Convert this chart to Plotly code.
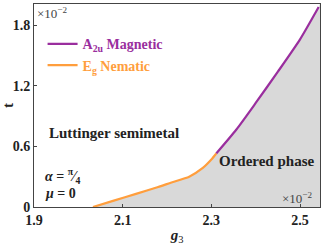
import plotly.graph_objects as go

# Data
g_nem = [2.033, 2.08, 2.13, 2.18, 2.21, 2.25, 2.28, 2.30, 2.311]
t_nem = [0.0, 0.063, 0.13, 0.198, 0.243, 0.30, 0.384, 0.47, 0.53]
g_mag = [2.311, 2.356, 2.40, 2.45, 2.50, 2.542]
t_mag = [0.53, 0.765, 1.03, 1.34, 1.66, 1.98]

xticks = [1.9, 2.1, 2.3, 2.5]
yticks = [0, 0.6, 1.2, 1.8]

PURPLE = "#9a2e9e"
ORANGE = "#ff9e3d"
FONT = "Liberation Serif"

fig = go.Figure()
# shaded ordered region
fig.add_trace(go.Scatter(x=g_nem + g_mag[1:] + [2.545, 2.545], y=t_nem + t_mag[1:] + [2.01, 0],
                         fill="tozeroy", fillcolor="#d9d9d9", mode="none", showlegend=False,
                         line=dict(shape="spline", smoothing=0.6), hoverinfo="skip"))
fig.add_trace(go.Scatter(x=g_mag, y=t_mag, mode="lines",
                         line=dict(color=PURPLE, width=2.2, shape="spline", smoothing=0.6),
                         name=f"<span style='color:{PURPLE}'><b>A<sub>2u</sub> Magnetic</b></span>"))
fig.add_trace(go.Scatter(x=g_nem, y=t_nem, mode="lines",
                         line=dict(color=ORANGE, width=2.2, shape="spline", smoothing=0.6),
                         name=f"<span style='color:{ORANGE}'><b>E<sub>g</sub> Nematic</b></span>"))

axis_common = dict(showline=True, linecolor="#444", linewidth=1, mirror=True, ticks="inside",
                   ticklen=3, tickcolor="#444", showgrid=False, zeroline=False, automargin=False,
                   tickfont=dict(family=FONT, size=14, color="#222"))
fig.update_xaxes(range=[1.9, 2.545], tickvals=xticks, ticktext=[f"<b>{v}</b>" for v in xticks],
                 title=dict(text="<b><i>g</i></b><sub>3</sub>", font=dict(family=FONT, size=15, color="#222"), standoff=2),
                 **axis_common)
fig.update_yaxes(range=[0, 2.01], tickvals=yticks, ticktext=["<b>0</b>", "<b>0.6</b>", "<b>1.2</b>", "<b>1.8</b>"],
                 title=dict(text="<b>t</b>", font=dict(family=FONT, size=15, color="#222"), standoff=10),
                 **axis_common)

def ann(x, y, text, xa, ya, size=15, color="#222"):
    return dict(x=x, y=y, xref="paper", yref="paper", text=text, xanchor=xa, yanchor=ya,
                showarrow=False, font=dict(family=FONT, size=size, color=color))

anns = [
    ann(0.005, 1.005, "×10<sup>−2</sup>", "left", "top", 13, "#444"),
    ann(0.98, -0.005, "×10<sup>−2</sup>", "right", "bottom", 13, "#444"),
    ann(0.045, 0.365, "<b>Luttinger semimetal</b>", "left", "middle"),
    ann(0.985, 0.225, "<b>Ordered phase</b>", "right", "middle"),
    ann(0.03, 0.155, "<b><i>α</i> = <sup>π</sup>⁄<sub>4</sub></b>", "left", "middle", 14),
    ann(0.03, 0.065, "<b><i>μ</i> = 0</b>", "left", "middle", 14),
]

fig.update_layout(
    width=332, height=249, margin=dict(l=34, r=12, t=4, b=42),
    plot_bgcolor="white", paper_bgcolor="white",
    showlegend=True,
    legend=dict(x=0.03, y=0.88, xanchor="left", yanchor="top", bgcolor="rgba(0,0,0,0)",
                font=dict(family=FONT, size=14), tracegroupgap=0, itemwidth=30),
    annotations=anns,
)
fig.write_html("out.html", config={"displayModeBar": False},
               post_script="document.body.style.margin='0';")
